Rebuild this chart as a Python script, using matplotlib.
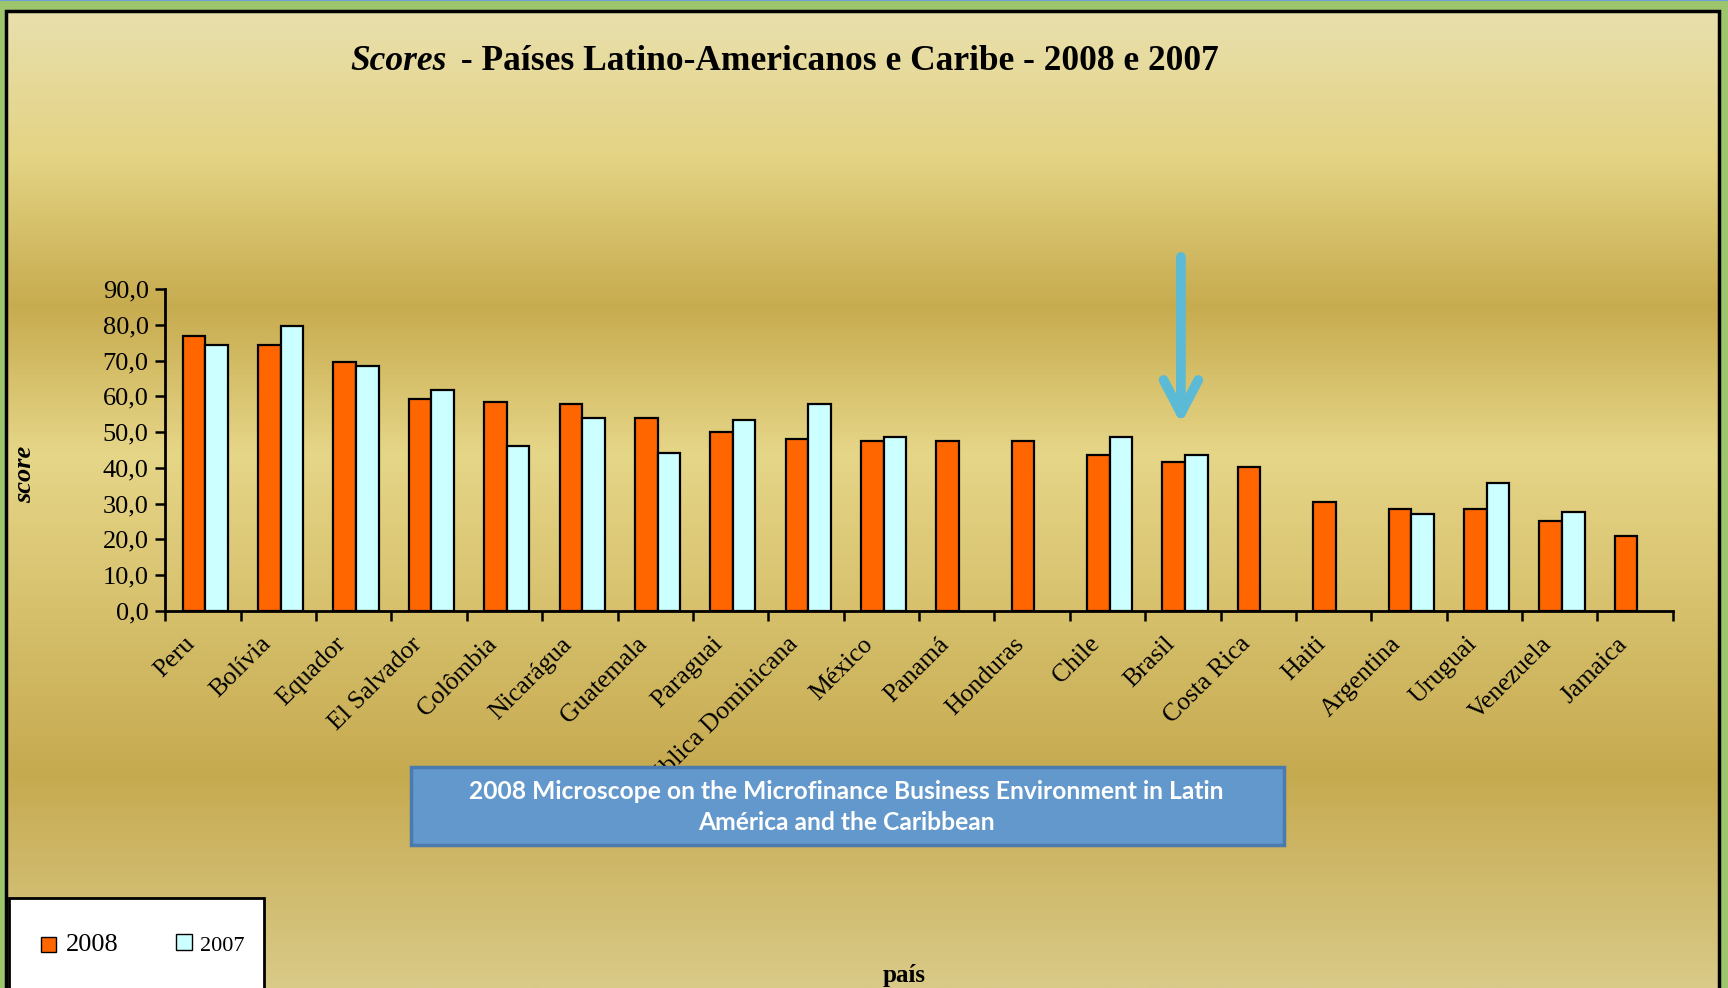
# Scores - Paises Latino-Americanos e Caribe - 2008 e 2007

import numpy as np
import matplotlib
matplotlib.use('Agg')
import matplotlib.pyplot as plt
import matplotlib.transforms as mtransforms
from matplotlib.colors import LinearSegmentedColormap
from matplotlib.patches import Rectangle
from matplotlib.ticker import FuncFormatter

paises = ['Peru', 'Bolívia', 'Equador', 'El Salvador', 'Colômbia', 'Nicarágua',
          'Guatemala', 'Paraguai', 'República Dominicana', 'México', 'Panamá',
          'Honduras', 'Chile', 'Brasil', 'Costa Rica', 'Haiti', 'Argentina',
          'Uruguai', 'Venezuela', 'Jamaica']
score_2008 = [76.9, 74.3, 69.7, 59.3, 58.5, 57.9, 54.0, 50.1, 48.1, 47.5,
              47.5, 47.5, 43.5, 41.6, 40.3, 30.4, 28.5, 28.5, 25.1, 21.0]
score_2007 = [74.3, 79.6, 68.4, 61.8, 46.1, 54.0, 44.2, 53.3, 57.9, 48.7,
              np.nan, np.nan, 48.7, 43.5, np.nan, np.nan, 27.2, 35.7, 27.7, np.nan]
anos = ['2008', '2007']

serif = 'Liberation Serif'
cor_2008 = '#FF6600'
cor_2007 = '#CCFFFF'

fig = plt.figure(figsize=(17.28, 9.88), dpi=100, facecolor='#9DC56C')

# background gradient (gold bands)
bg = fig.add_axes([0, 0, 1, 1], zorder=-2)
cmap = LinearSegmentedColormap.from_list('gold', [
    (0.0, '#D9CA88'), (0.215, '#C6AA50'), (0.54, '#E6D688'),
    (0.69, '#C7AB4F'), (0.84, '#E3D383'), (1.0, '#E9E0B0')])
grad = np.linspace(0, 1, 800).reshape(-1, 1)
bg.imshow(grad, aspect='auto', cmap=cmap, origin='lower', extent=(0, 1, 0, 1))
bg.set_xlim(0, 1)
bg.set_ylim(0, 1)
bg.axis('off')

# green border + black frame
fl, fr, ft = 0.0035, 0.9948, 0.9889
for r in [(0, ft, 1, 1 - ft), (0, 0, fl, 1), (fr, 0, 1 - fr, 1)]:
    bg.add_patch(Rectangle(r[:2], r[2], r[3], facecolor='#9DC56C', edgecolor='none'))
bg.plot([fl, fl, fr, fr], [0, ft, ft, 0], color='black', lw=2.5, solid_joinstyle='miter')
bg.plot([0, 1], [0.9995, 0.9995], color='#6FA0D8', lw=1.5)

# main chart
ax = fig.add_axes([0.0957, 0.3819, 0.968 - 0.0957, 0.7072 - 0.3819])
ax.set_facecolor('none')

x = np.arange(len(paises))
w = 0.30
v07 = np.array(score_2007)
ok = ~np.isnan(v07)
ax.bar(x - w / 2 + 0.03, score_2008, w, color=cor_2008, edgecolor='black', lw=1.6, zorder=3)
ax.bar(x[ok] + w / 2 + 0.03, v07[ok], w, color=cor_2007, edgecolor='black', lw=1.6, zorder=3)

ax.set_xlim(-0.5, len(paises) - 0.5)
ax.set_ylim(0, 90)
for s in ['top', 'right']:
    ax.spines[s].set_visible(False)
for s in ['left', 'bottom']:
    ax.spines[s].set_linewidth(2)

ax.set_yticks(np.arange(0, 91, 10))
ax.yaxis.set_major_formatter(FuncFormatter(lambda v, p: '{:.1f}'.format(v).replace('.', ',')))
ax.tick_params(axis='y', length=7, width=1.8, pad=5, labelsize=19)
for lab in ax.get_yticklabels():
    lab.set_family(serif)

ax.set_xticks(x)
ax.set_xticklabels(paises, rotation=45, ha='right', va='top', rotation_mode='anchor',
                   fontsize=18.5, family=serif)
ax.tick_params(axis='x', which='major', length=0, pad=16)
ax.set_xticks(np.arange(-0.5, len(paises), 1), minor=True)
ax.tick_params(axis='x', which='minor', length=7, width=1.8, direction='out')
off = mtransforms.ScaledTranslation(-0.19, 0, fig.dpi_scale_trans)
for lab in ax.get_xticklabels():
    lab.set_transform(lab.get_transform() + off)

# title (first word italic)
t1 = fig.text(0.2027, 0.938, 'Scores', fontsize=25.5, fontweight='bold', fontstyle='italic',
              family=serif, va='center', ha='left')
ax.annotate(' - Países Latino-Americanos e Caribe - 2008 e 2007', xy=(1, 0), xycoords=t1,
            xytext=(4, 0), textcoords='offset points',
            va='bottom', ha='left', fontsize=25.5, fontweight='bold', family=serif,
            annotation_clip=False)

# axis labels
fig.text(0.014, 0.52, 'score', rotation=90, fontsize=19, fontweight='bold', fontstyle='italic',
         family=serif, ha='center', va='center')
fig.text(0.523, 0.013, 'país', fontsize=18, fontweight='bold', family=serif,
         ha='center', va='center')

# arrow pointing at Brasil
ax.annotate('', xy=(0.6834, 0.571), xytext=(0.6834, 0.740), xycoords='figure fraction',
            textcoords='figure fraction',
            arrowprops=dict(arrowstyle='->,head_length=2.4,head_width=1.25', lw=7,
                            color='#5BBAD5', shrinkA=0, shrinkB=0, mutation_scale=10,
                            capstyle='round', joinstyle='round'))

# source box
fig.add_artist(Rectangle((0.2378, 0.1447), 0.505, 0.079, transform=fig.transFigure,
                         facecolor='#6398CC', edgecolor='#4A7AAE', lw=2.5, zorder=5))
fig.text(0.490, 0.183, '2008 Microscope on the Microfinance Business Environment in Latin\n'
         'América and the Caribbean', ha='center', va='center', color='white',
         fontweight='bold', fontsize=17.7, family='Lato', linespacing=1.42, zorder=6)

# legend box (cut at bottom)
fig.add_artist(Rectangle((0.0052, -0.02), 0.1476, 0.1111, transform=fig.transFigure,
                         facecolor='white', edgecolor='black', lw=2, zorder=5))
fig.add_artist(Rectangle((0.0237, 0.0364), 0.0087, 0.0152, transform=fig.transFigure,
                         facecolor=cor_2008, edgecolor='black', lw=1, zorder=6))
fig.text(0.0382, 0.0435, anos[0], fontsize=19, family=serif, va='center', zorder=6)
fig.add_artist(Rectangle((0.1019, 0.0385), 0.0093, 0.0162, transform=fig.transFigure,
                         facecolor=cor_2007, edgecolor='black', lw=1, zorder=6))
fig.text(0.1157, 0.0425, anos[1], fontsize=16, family=serif, va='center', zorder=6)

fig.savefig('out.png', dpi=100, facecolor=fig.get_facecolor())
